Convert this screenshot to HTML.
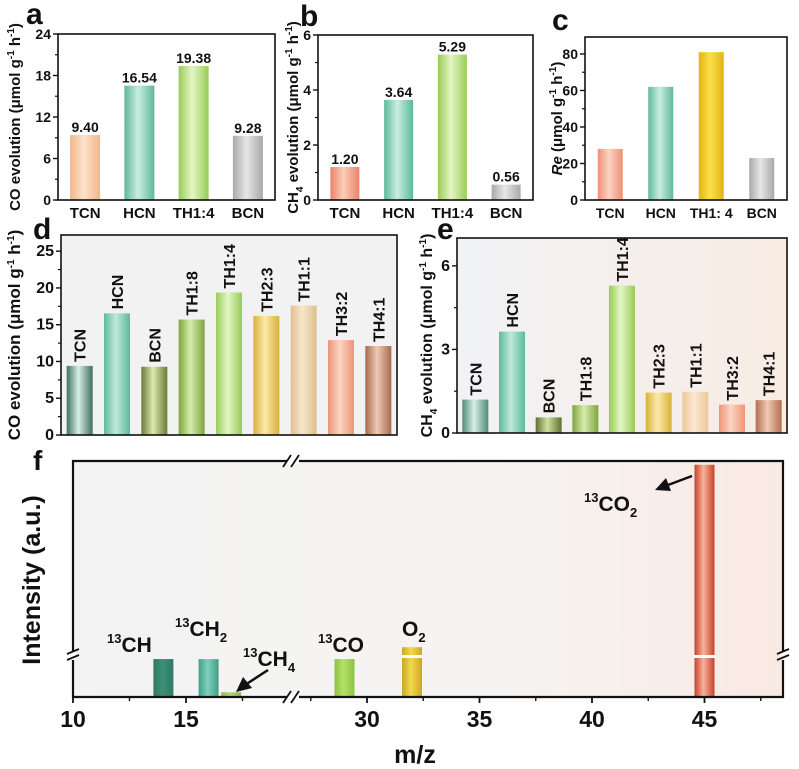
<!DOCTYPE html>
<html><head><meta charset="utf-8"><style>
html,body{margin:0;padding:0;background:#fff;}
svg{display:block;font-family:"Liberation Sans",Arial,sans-serif;font-weight:bold;}
</style></head><body>
<svg id="fig" width="799" height="769" viewBox="0 0 799 769" xmlns="http://www.w3.org/2000/svg">
<defs id="defs">
 <linearGradient id="bgE" x1="0" x2="1" y1="0" y2="0"><stop offset="0" stop-color="#f1f2f5"/><stop offset="1" stop-color="#f8ece3"/></linearGradient>
 <linearGradient id="bgF" x1="0" x2="1" y1="0" y2="0"><stop offset="0" stop-color="#f3f3f3"/><stop offset="0.6" stop-color="#f6f4f2"/><stop offset="1" stop-color="#f9e9e2"/></linearGradient>
</defs>
</svg>
<script>
// ---- data ----
const aCats=["TCN","HCN","TH1:4","BCN"];
const aVals=[9.40,16.54,19.38,9.28];
const aLabels=["9.40","16.54","19.38","9.28"];
const aTicks=[0,6,12,18,24];
const bCats=["TCN","HCN","TH1:4","BCN"];
const bVals=[1.20,3.64,5.29,0.56];
const bLabels=["1.20","3.64","5.29","0.56"];
const bTicks=[0,2,4,6];
const cCats=["TCN","HCN","TH1: 4","BCN"];
const cVals=[28,62,81,23];
const cTicks=[0,20,40,60,80];
const dCats=["TCN","HCN","BCN","TH1:8","TH1:4","TH2:3","TH1:1","TH3:2","TH4:1"];
const dVals=[9.40,16.54,9.28,15.7,19.38,16.2,17.6,12.9,12.1];
const dTicks=[0,5,10,15,20,25];
const eCats=["TCN","HCN","BCN","TH1:8","TH1:4","TH2:3","TH1:1","TH3:2","TH4:1"];
const eVals=[1.20,3.64,0.56,1.00,5.29,1.45,1.48,1.02,1.18];
const eTicks=[0,3,6];
const fSpecies=["13CH","13CH2","13CH4","13CO","O2","13CO2"];
const fMz=[14,16,17,29,32,45];
const fIntensity=[16,16,2,16,21,98];
const fTicks=[10,15,30,35,40,45];

const NS="http://www.w3.org/2000/svg";
const svg=document.getElementById('fig');
const defs=document.getElementById('defs');
function mk(tag,attrs,parent){const e=document.createElementNS(NS,tag);for(const k in attrs)e.setAttribute(k,attrs[k]);(parent||svg).appendChild(e);return e;}
let gid=0;
function grad(dark,light){
  const id='g'+(gid++);
  const g=mk('linearGradient',{id:id,x1:0,x2:1,y1:0,y2:0},defs);
  mk('stop',{offset:0,'stop-color':dark},g);
  mk('stop',{offset:0.45,'stop-color':light},g);
  mk('stop',{offset:1,'stop-color':dark},g);
  return 'url(#'+id+')';
}
function text(x,y,s,size,anchor,name,parent){
  const t=mk('text',{x:x,y:y,'font-size':size,'text-anchor':anchor||'middle',fill:'#111'},parent);
  t.textContent=s;
  
  
  return t;
}

function panel(p){
  const g=mk('g',{});
  
  
  const H=p.y1-p.y0, W=p.x1-p.x0;
  const ys=v=>p.y1-v/p.ymax*H;
  const step=W/p.cats.length;
  const xs=i=>p.x0+step*(i+0.5);
  mk('rect',{x:p.x0,y:p.y0,width:W,height:H,fill:p.bg||'#fff'},g);
  p.vals.forEach((v,i)=>{
    const r=mk('rect',{x:xs(i)-p.bw/2,y:ys(v),width:p.bw,height:p.y1-ys(v),fill:grad(p.colors[i][0],p.colors[i][1])},g);
    
    
    if(p.labels){text(xs(i),ys(v)-3,p.labels[i],14,'middle','value-label',g);}
    if(p.rot){
      const t=text(0,0,p.cats[i],16,'start','bar-label',g);
      t.setAttribute('transform','translate('+(xs(i)+6)+','+(ys(v)-4)+') rotate(-90)');
    } else {
      text(xs(i),p.y1+18,p.cats[i],p.xsize||15,'middle','x-tick-label',g);
    }
  });
  const fr=mk('rect',{x:p.x0,y:p.y0,width:W,height:H,fill:'none',stroke:'#111','stroke-width':1.6},g);
  
  
  p.ticks.forEach((t,i)=>{
    mk('line',{x1:p.x0-5,x2:p.x0,y1:ys(t),y2:ys(t),stroke:'#111','stroke-width':1.4},g);
    text(p.x0-7,ys(t)+5,String(t),p.ksize||14,'end','y-tick-label',g);
    if(i<p.ticks.length-1){const m=(t+p.ticks[i+1])/2;mk('line',{x1:p.x0-3,x2:p.x0,y1:ys(m),y2:ys(m),stroke:'#111','stroke-width':1.2},g);}
  });
  const yl=text(0,0,'',p.tsize||15,'middle','y-axis-title',g);
  yl.setAttribute('transform','translate('+p.tx+','+(p.y0+H/2)+') rotate(-90)');
  yl.innerHTML=p.title;
  text(p.lx,p.ly,p.letter,30,'start','panel-label-'+p.letter,g);
}
const teal=['#5fb89c','#c8eee0'], green=['#98cc58','#e3f6c4'], gray=['#a9a9a9','#e6e6e6'];
const coT='CO evolution (μmol g<tspan dy="-6" font-size="10">-1</tspan><tspan dy="6"> h</tspan><tspan dy="-6" font-size="10">-1</tspan><tspan dy="6">)</tspan>';
const chT='CH<tspan dy="5" font-size="10">4</tspan><tspan dy="-5"> evolution (μmol g</tspan><tspan dy="-6" font-size="10">-1</tspan><tspan dy="6"> h</tspan><tspan dy="-6" font-size="10">-1</tspan><tspan dy="6">)</tspan>';
panel({name:'panel-a',cats:aCats,vals:aVals,labels:aLabels,ticks:aTicks,x0:58,x1:275,y0:34,y1:200,ymax:24,bw:30,
  colors:[['#f3b688','#fde2cc'],teal,green,gray],title:coT,tx:20,letter:'a',lx:26,ly:24});
panel({name:'panel-b',cats:bCats,vals:bVals,labels:bLabels,ticks:bTicks,x0:318,x1:533,y0:35,y1:200,ymax:6,bw:29,
  colors:[['#ea8468','#fbcdb8'],teal,green,gray],title:chT,tx:298,letter:'b',lx:300,ly:26});
panel({name:'panel-c',cats:cCats,vals:cVals,ticks:cTicks,x0:585,x1:787,y0:37,y1:200,ymax:89.3,bw:25,xsize:14,
  colors:[['#ee9073','#fcd3c2'],teal,['#e2b412','#fbe04a'],gray],
  title:'<tspan font-style="italic">Re</tspan> (μmol g<tspan dy="-6" font-size="10">-1</tspan><tspan dy="6"> h</tspan><tspan dy="-6" font-size="10">-1</tspan><tspan dy="6">)</tspan>',
  tx:562,letter:'c',lx:552,ly:30});
panel({name:'panel-d',cats:dCats,vals:dVals,ticks:dTicks,x0:61,x1:397,y0:235,y1:435,ymax:27.2,bw:26,rot:true,bg:'#f2f2f2',ksize:16,
  colors:[['#3f6f60','#d8eee6'],['#5cbb9c','#bfe8d8'],['#6a7a35','#dbe8b0'],['#7fa540','#d6ecac'],['#98cc58','#e3f6c4'],['#d9b13a','#fbeaa8'],['#dfc08e','#f8e6cc'],['#ee9476','#fbd4c4'],['#a86a4c','#f0c8b4']],
  title:coT,tx:20,tsize:17,letter:'d',lx:33,ly:239});
panel({name:'panel-e',cats:eCats,vals:eVals,ticks:eTicks,x0:457,x1:787,y0:238,y1:433,ymax:7,bw:26,rot:true,bg:'url(#bgE)',ksize:16,
  colors:[['#4f8c78','#d8eee6'],['#5cbb9c','#bfe8d8'],['#5f7030','#d0e0a0'],['#7fa540','#d6ecac'],['#98cc58','#e3f6c4'],['#d9b13a','#fbeaa8'],['#ecc89a','#fbe8d2'],['#f09476','#fbd4c4'],['#b07050','#f0c8b4']],
  title:chT,tx:432,tsize:16,letter:'e',lx:437,ly:239});

// ---- panel f ----
(function(){
  const g=mk('g',{});
  
  
  const x0=73,x1=783,y0=461,y1=697,brk=293;
  const xs=v=> v<=20 ? x0+(v-10)*22.6 : 367+(v-30)*22.5;
  const ys=v=> y1-v/100*237;
  mk('rect',{x:x0,y:y0,width:x1-x0,height:y1-y0,fill:'url(#bgF)'},g);
  const fc=[['#2f7a64','#3c8f76'],['#3f9f88','#7fd0bb'],['#8ab84a','#b6d67a'],['#8cc440','#b4e06a'],['#c9a628','#f5d84a'],['#c8402c','#f7b39a']];
  fSpecies.forEach((s,i)=>{
    const x=xs(fMz[i]);
    const r=mk('rect',{x:x-10,y:ys(fIntensity[i]),width:20,height:y1-ys(fIntensity[i]),fill:grad(fc[i][0],fc[i][1])},g);
    
    
    if(fIntensity[i]>18){mk('rect',{x:x-11,y:655,width:22,height:3,fill:'#fff'},g);}
  });
  const ax=mk('path',{d:`M${x0},${y0}H${x1}V${y1}H${x0}Z`,fill:'none',stroke:'#111','stroke-width':2.2},g);
  
  
  mk('rect',{x:brk-6,y:y0-3,width:12,height:6,fill:'#fff'},g);
  mk('rect',{x:brk-6,y:y1-3,width:12,height:6,fill:'#fff'},g);
  mk('rect',{x:x0-3,y:652,width:6,height:8,fill:'#fff'},g);
  mk('rect',{x:x1-3,y:652,width:6,height:8,fill:'#fff'},g);
  [[brk,y0],[brk,y1]].forEach(([bx,by])=>{
    mk('line',{x1:bx-10,y1:by+6,x2:bx-2,y2:by-6,stroke:'#111','stroke-width':1.8},g);
    mk('line',{x1:bx-2,y1:by+6,x2:bx+6,y2:by-6,stroke:'#111','stroke-width':1.8},g);
  });
  [[x0,652],[x1,652]].forEach(([bx,by])=>{
    mk('line',{x1:bx-6,y1:by+2,x2:bx+6,y2:by-3,stroke:'#111','stroke-width':1.8},g);
    mk('line',{x1:bx-6,y1:by+8,x2:bx+6,y2:by+3,stroke:'#111','stroke-width':1.8},g);
  });
  fTicks.forEach(t=>{
    mk('line',{x1:xs(t),x2:xs(t),y1:y1,y2:y1+6,stroke:'#111','stroke-width':1.8},g);
    text(xs(t),y1+30,String(t),23,'middle','x-tick-label',g);
  });
  [12.5,17.5,27.5,32.5,37.5,42.5,47.5].forEach(t=>{mk('line',{x1:xs(t),x2:xs(t),y1:y1,y2:y1+4,stroke:'#111','stroke-width':1.4},g);});
  text(415,763,'m/z',25,'middle','x-axis-title',g);
  const yt=text(0,0,'Intensity (a.u.)',25,'middle','y-axis-title',g);
  yt.setAttribute('transform','translate(40,580) rotate(-90)');
  text(33,470,'f',28,'start','panel-label-f',g);
  function lab(x,y,html,name){const t=text(x,y,'',21,'start',name,g);t.innerHTML=html;}
  lab(107,652,'<tspan font-size="13" dy="-9">13</tspan><tspan dy="9">CH</tspan>','label-13ch');
  lab(175,636,'<tspan font-size="13" dy="-9">13</tspan><tspan dy="9">CH</tspan><tspan font-size="13" dy="6">2</tspan>','label-13ch2');
  lab(243,666,'<tspan font-size="13" dy="-9">13</tspan><tspan dy="9">CH</tspan><tspan font-size="13" dy="6">4</tspan>','label-13ch4');
  lab(318,652,'<tspan font-size="13" dy="-9">13</tspan><tspan dy="9">CO</tspan>','label-13co');
  lab(402,636,'O<tspan font-size="13" dy="6">2</tspan>','label-o2');
  lab(584,511,'<tspan font-size="13" dy="-9">13</tspan><tspan dy="9">CO</tspan><tspan font-size="13" dy="6">2</tspan>','label-13co2');
  mk('line',{x1:268,y1:670,x2:245,y2:685,stroke:'#111','stroke-width':2.5},g);
  mk('polygon',{points:'236,692 243,677 252,688',fill:'#111'},g);
  mk('line',{x1:692,y1:476,x2:668,y2:485,stroke:'#111','stroke-width':2.5},g);
  mk('polygon',{points:'655,490 666,478 671,491',fill:'#111'},g);
})();
</script>
</body></html>
